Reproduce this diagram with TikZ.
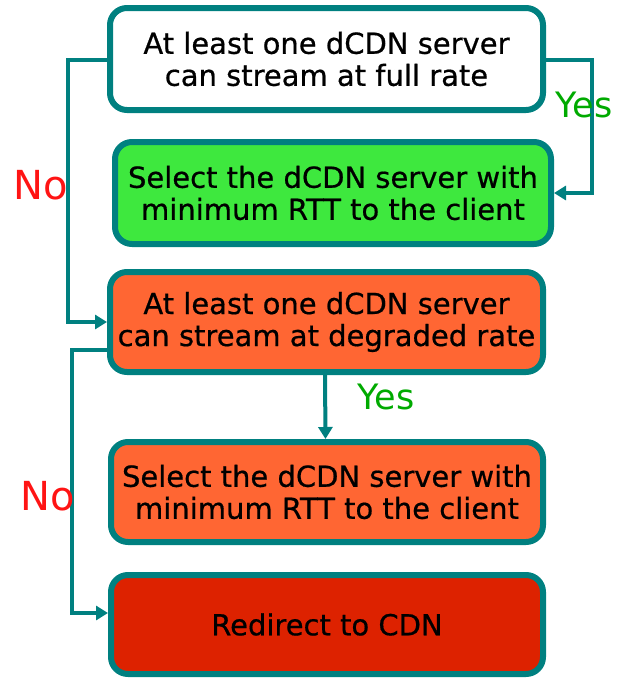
\documentclass[tikz,border=0pt]{standalone}
\usepackage{fontspec}
\setmainfont{DejaVu Sans}
\newfontfamily\boxfont[FakeBold=0.6]{DejaVu Sans}
\usetikzlibrary{arrows.meta}
\definecolor{teal}{RGB}{0,128,128}
\definecolor{boxgreen}{RGB}{62,232,62}
\definecolor{boxorange}{RGB}{255,102,51}
\definecolor{boxred}{RGB}{221,34,0}
\definecolor{yesgreen}{RGB}{0,170,0}
\definecolor{nored}{RGB}{255,20,20}
\begin{document}
\begin{tikzpicture}[x=1pt,y=-1pt,
  flowbox/.style={draw=teal, line width=6pt, rounded corners=17pt, align=center,
    inner sep=0pt, font=\boxfont\fontsize{29}{32}\selectfont},
  conn/.style={draw=teal, line width=4pt},
  arr/.style={-{Triangle[length=12pt,width=14pt]}},
  yeslab/.style={text=yesgreen, font=\fontsize{35}{40}\selectfont, inner sep=0pt},
  nolab/.style={text=nored, font=\fontsize{40}{42}\selectfont, inner sep=0pt}]
\useasboundingbox (0,0) rectangle (617,678);
\coordinate (lx) at (68,0);
\coordinate (lxb) at (72,0);
\coordinate (rx) at (592,0);
\node[flowbox, fill=white, minimum width=433pt, minimum height=102pt] (b1) at (326.5,59)
  {At least one dCDN server\\can stream at full rate};
\node[flowbox, fill=boxgreen, minimum width=436pt, minimum height=102pt] (b2) at (333,193)
  {Select the dCDN server with\\minimum RTT to the client};
\node[flowbox, fill=boxorange, minimum width=433pt, minimum height=100pt] (b3) at (326.5,322)
  {At least one dCDN server\\can stream at degraded rate};
\node[flowbox, fill=boxorange, minimum width=432pt, minimum height=100pt] (b4) at (327,492)
  {Select the dCDN server with\\minimum RTT to the client};
\node[flowbox, fill=boxred, minimum width=432pt, minimum height=99pt] (b5) at (327,624.5)
  {Redirect to CDN};
\draw[conn, arr] ([yshift=-1pt]b1.west) -- ([yshift=-1pt]b1.west -| lx) |- (b3.west);
\draw[conn, arr] ([yshift=-28pt]b3.west) -- ([yshift=-28pt]b3.west -| lxb) |- ([yshift=11.5pt]b5.west);
\draw[conn, arr] ([yshift=-1pt]b1.east) -- ([yshift=-1pt]b1.east -| rx) |- (b2.east);
\draw[conn, arr] ([xshift=-1.5pt]b3.south) -- ([xshift=-1.5pt]b4.north);
\node[yeslab] (y1) at (584,105) {Yes};
\node[yeslab] (y2) at (386,397) {Yes};
\node[nolab] (n1) at (41,185) {No};
\node[nolab] (n2) at (48,496) {No};
\end{tikzpicture}
\end{document}
